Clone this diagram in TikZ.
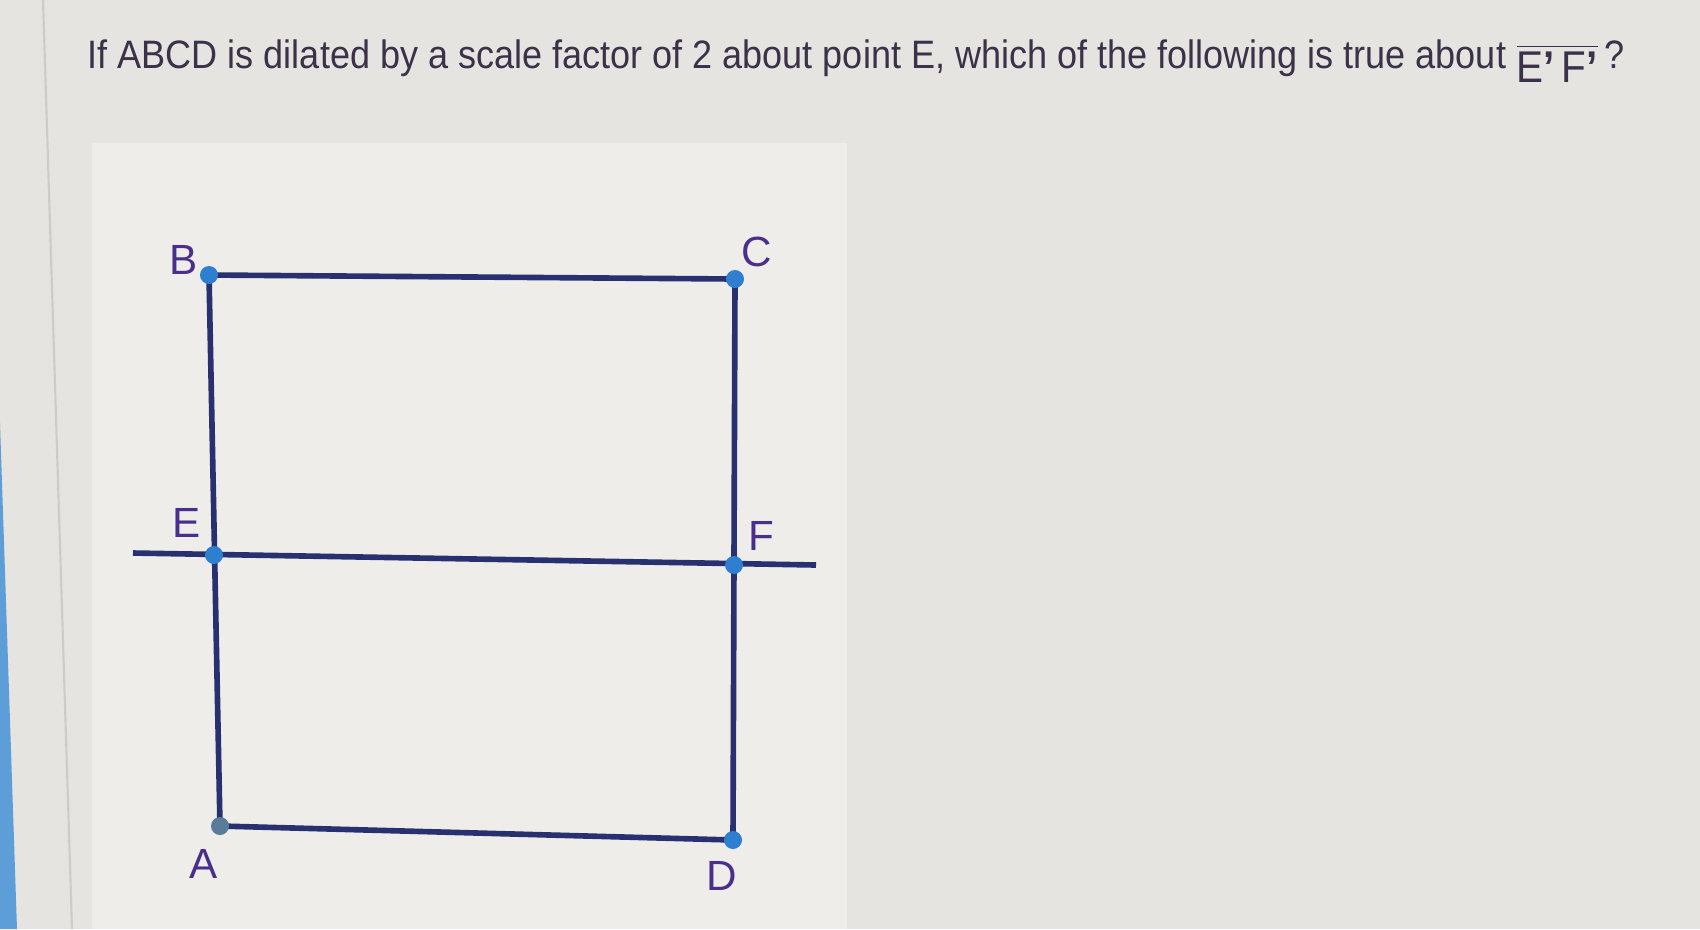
\documentclass[tikz,border=0pt]{standalone}
\usepackage{fontspec}
\setmainfont{Liberation Sans}
\usepackage{tikz}
\usetikzlibrary{calc}
\pgfdeclarelayer{back}
\pgfdeclarelayer{lines}
\pgfsetlayers{back,lines,main}
\definecolor{screenbg}{HTML}{E6E4E0}
\definecolor{panelbg}{HTML}{EEEDEA}
\definecolor{sidebar}{HTML}{5E9ED8}
\definecolor{edgeline}{HTML}{CFCCC7}
\definecolor{qtext}{HTML}{3B3148}
\definecolor{ptlabel}{HTML}{4A2E8C}
\definecolor{segcol}{HTML}{283070}
\definecolor{dotcol}{HTML}{2F7FD0}
\definecolor{dotgrey}{HTML}{5A7C98}
\tikzstyle{seg} = [draw=segcol, line width=1.6pt]
\tikzstyle{pt} = [circle, fill=dotcol, inner sep=0pt, minimum size=0.18cm]
\tikzstyle{lbl} = [text=ptlabel, font=\fontsize{12}{13}\selectfont, inner sep=0pt]

\begin{document}
\begin{tikzpicture}[x=0.01cm, y=-0.01cm]
      \useasboundingbox (0,0) rectangle (1700,929);
      \begin{pgfonlayer}{back}
      \fill [screenbg] (0,0) rectangle (1700,929);
      \fill [sidebar] (0,423) -- (17,929) -- (0,929) -- cycle;
      \draw [edgeline, line width=0.6pt] (43,0) -- (72,929);
      \fill [panelbg] (92,143) rectangle (847,929);
      \end{pgfonlayer}

      \node [anchor=base west, text=qtext, font=\fontsize{10.25}{12}\selectfont, inner sep=0pt] (question) at (87,68)
            {\scalebox{1}[1.1]{If ABCD is dilated by a scale factor of 2 about point E, which of the following is true about\hspace{3pt}%
             \raisebox{-1.3mm}{\fontsize{11.5}{12}\selectfont$\overline{\mbox{E\textbf{\textquoteright}\,F\textbf{\textquoteright}}}$}\hspace{2pt}?}};

      % points of the figure
      \node [pt] (B) at (209,275) {};
      \node [pt] (C) at (735,279) {};
      \node [pt] (E) at (214,555) {};
      \node [pt] (F) at (734,565) {};
      \node [pt, fill=dotgrey] (A) at (220,826) {};
      \node [pt] (D) at (733,840) {};
      \coordinate (lineL) at (133,553);
      \coordinate (lineR) at (816,565);

      \node [lbl] (labB) at (184,260) {B};
      \node [lbl] (labC) at (757,252) {C};
      \node [lbl] (labE) at (187,523) {E};
      \node [lbl] (labF) at (761,536) {F};
      \node [lbl] (labA) at (204,864) {A};
      \node [lbl] (labD) at (722,876) {D};

      \begin{pgfonlayer}{lines}
      \path [seg] (B.center) -- (C.center);
      \path [seg] (C.center) -- (D.center);
      \path [seg] (D.center) -- (A.center);
      \path [seg] (A.center) -- (B.center);
      \path [seg] (lineL) -- (lineR);
      \end{pgfonlayer}
    \end{tikzpicture}
\end{document}
